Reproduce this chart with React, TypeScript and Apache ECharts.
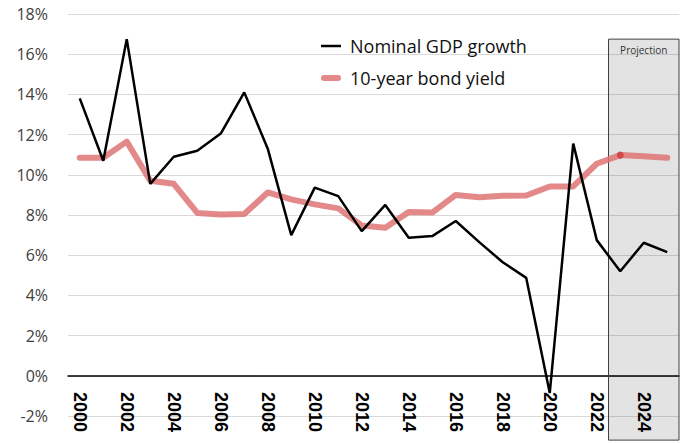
import React, { useEffect, useRef } from "react";
import * as echarts from "echarts";

const years = [
  "2000", "2001", "2002", "2003", "2004", "2005", "2006", "2007", "2008", "2009",
  "2010", "2011", "2012", "2013", "2014", "2015", "2016", "2017", "2018", "2019",
  "2020", "2021", "2022", "2023", "2024", "2025",
];
const gdpGrowth = [
  13.8, 10.7, 16.75, 9.55, 10.9, 11.2, 12.05, 14.1, 11.3, 7.0,
  9.36, 8.94, 7.2, 8.5, 6.87, 6.95, 7.7, 6.65, 5.65, 4.87,
  -0.86, 11.55, 6.75, 5.2, 6.62, 6.15,
];
const bondYield = [
  10.85, 10.85, 11.65, 9.7, 9.55, 8.1, 8.02, 8.05, 9.12, 8.78,
  8.53, 8.33, 7.48, 7.37, 8.15, 8.12, 9.0, 8.88, 8.96, 8.97,
  9.42, 9.42, 10.55, 10.98, 10.92, 10.85,
];
const projectionStart = "2023";
const projectionEnd = "2025";
const projectionTop = 16.75;
const projectionBottom = -3.2;
const yTicks = { min: -2, max: 18, interval: 2 };

export default function App() {
  const ref = useRef<HTMLDivElement>(null);
  useEffect(() => {
    if (!ref.current) return;
    const chart = echarts.init(ref.current, undefined, { renderer: "svg" });
    const dotIndex = years.indexOf(projectionStart);
    chart.setOption({
      animation: false,
      grid: { left: 68, right: 6, top: 14, bottom: 27, containLabel: false, outerBoundsMode: "none" },
      legend: {
        orient: "vertical",
        left: 316,
        top: 32,
        itemWidth: 20,
        itemHeight: 14,
        itemGap: 14,
        data: [
          { name: "Nominal GDP growth", icon: "path://M0,0h20v2.5h-20z" },
          { name: "10-year bond yield", icon: "path://M3,0h14a3,3 0 0 1 0,6h-14a3,3 0 0 1 0,-6z" },
        ],
        textStyle: { fontSize: 18, fontFamily: "Open Sans", color: "#111", padding: [0, 0, 0, 4] },
      },
      xAxis: {
        type: "category",
        data: years,
        boundaryGap: true,
        axisLine: { onZero: true, lineStyle: { color: "#000", width: 1.5 } },
        axisTick: { show: false },
        axisLabel: {
          rotate: -90,
          interval: 1,
          fontWeight: "bold",
          fontSize: 18,
          color: "#000",
          fontFamily: "Liberation Sans",
          margin: -24,
        },
        splitLine: { show: false },
      },
      yAxis: {
        type: "value",
        min: yTicks.min,
        max: yTicks.max,
        interval: yTicks.interval,
        axisLine: { show: false },
        axisTick: { show: false },
        axisLabel: {
          formatter: "{value}%",
          fontSize: 16,
          color: "#404040",
          fontFamily: "Open Sans",
          margin: 20,
        },
        splitLine: { lineStyle: { color: "#d9d9d9", width: 1 } },
      },
      series: [
        {
          name: "Nominal GDP growth",
          type: "line",
          data: gdpGrowth,
          symbol: "none",
          z: 4,
          lineStyle: { color: "#000", width: 2.5 },
          itemStyle: { color: "#000" },
        },
        {
          name: "10-year bond yield",
          type: "line",
          data: bondYield,
          symbol: "none",
          z: 3,
          lineStyle: { color: "#de7474", width: 6, opacity: 0.85, cap: "round", join: "round" },
          itemStyle: { color: "#de7474", opacity: 0.85 },
        },
        {
          name: "dot",
          type: "scatter",
          data: [[projectionStart, bondYield[dotIndex]]],
          symbolSize: 7,
          z: 3,
          itemStyle: { color: "#cc4444", opacity: 0.9 },
        },
      ],
    });
    const x0 = chart.convertToPixel({ xAxisIndex: 0 }, projectionStart) as number;
    const x1 = chart.convertToPixel({ xAxisIndex: 0 }, projectionEnd) as number;
    const n = years.indexOf(projectionEnd) - years.indexOf(projectionStart);
    const band = (x1 - x0) / n;
    const left = x0 - band / 2;
    const right = x1 + band / 2;
    const top = chart.convertToPixel({ yAxisIndex: 0 }, projectionTop) as number;
    const bottom = chart.convertToPixel({ yAxisIndex: 0 }, projectionBottom) as number;
    chart.setOption({
      graphic: [
        {
          type: "rect",
          z: 1,
          shape: { x: left, y: top, width: right - left, height: bottom - top },
          style: { fill: "rgba(0,0,0,0.11)", stroke: "#404040", lineWidth: 1 },
        },
        {
          type: "text",
          z: 1,
          x: (left + right) / 2,
          y: top + 6,
          style: {
            text: "Projection",
            fontSize: 10,
            fontFamily: "Open Sans",
            fill: "#333",
            align: "center",
            verticalAlign: "top",
          },
        },
      ],
    });
    return () => chart.dispose();
  }, []);
  return (
    <div
      ref={ref}
      style={{ position: "fixed", left: 0, top: 0, width: 685, height: 443, background: "#fff" }}
    />
  );
}
